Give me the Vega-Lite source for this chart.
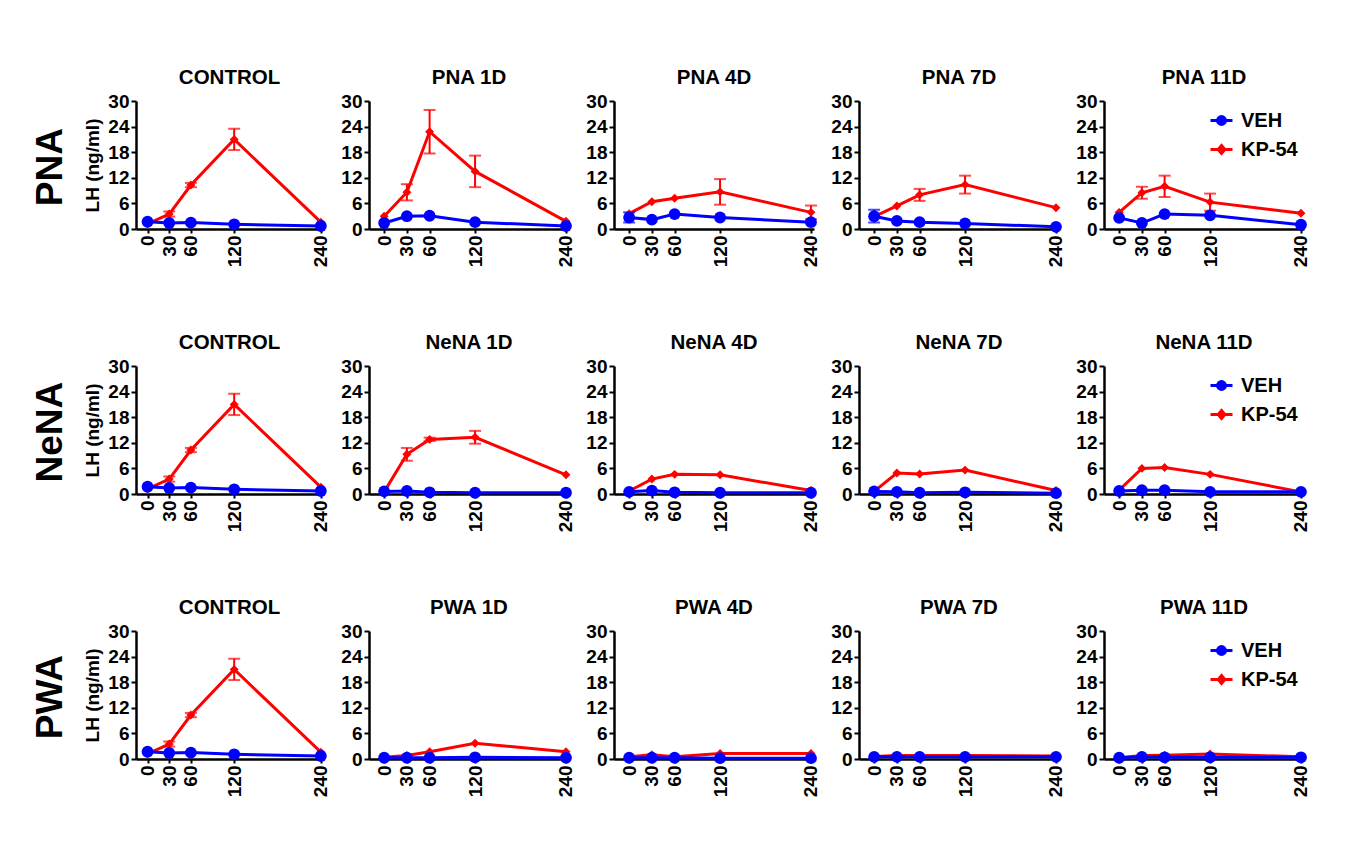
{
  "$schema": "https://vega.github.io/schema/vega-lite/v6.json",
  "background": "white",
  "padding": {"left": 31, "top": 67, "right": 5, "bottom": 5},
  "datasets": {
    "lh": [
      {"panel": "CONTROL", "series": "KP-54", "time": 0, "lh": 1.2},
      {"panel": "CONTROL", "series": "KP-54", "time": 30, "lh": 3.5, "err": 0.6},
      {"panel": "CONTROL", "series": "KP-54", "time": 60, "lh": 10.3, "err": 0.5},
      {"panel": "CONTROL", "series": "KP-54", "time": 120, "lh": 21.0, "err": 2.5},
      {"panel": "CONTROL", "series": "KP-54", "time": 240, "lh": 1.6},
      {"panel": "CONTROL", "series": "VEH", "time": 0, "lh": 1.7},
      {"panel": "CONTROL", "series": "VEH", "time": 30, "lh": 1.4},
      {"panel": "CONTROL", "series": "VEH", "time": 60, "lh": 1.5},
      {"panel": "CONTROL", "series": "VEH", "time": 120, "lh": 1.1},
      {"panel": "CONTROL", "series": "VEH", "time": 240, "lh": 0.7},

      {"panel": "PNA 1D", "series": "KP-54", "time": 0, "lh": 3.0},
      {"panel": "PNA 1D", "series": "KP-54", "time": 30, "lh": 8.6, "err": 1.9},
      {"panel": "PNA 1D", "series": "KP-54", "time": 60, "lh": 22.8, "err": 5.1},
      {"panel": "PNA 1D", "series": "KP-54", "time": 120, "lh": 13.5, "err": 3.7},
      {"panel": "PNA 1D", "series": "KP-54", "time": 240, "lh": 1.8},
      {"panel": "PNA 1D", "series": "VEH", "time": 0, "lh": 1.4},
      {"panel": "PNA 1D", "series": "VEH", "time": 30, "lh": 3.0},
      {"panel": "PNA 1D", "series": "VEH", "time": 60, "lh": 3.1},
      {"panel": "PNA 1D", "series": "VEH", "time": 120, "lh": 1.6},
      {"panel": "PNA 1D", "series": "VEH", "time": 240, "lh": 0.7},

      {"panel": "PNA 4D", "series": "KP-54", "time": 0, "lh": 3.6},
      {"panel": "PNA 4D", "series": "KP-54", "time": 30, "lh": 6.4},
      {"panel": "PNA 4D", "series": "KP-54", "time": 60, "lh": 7.2},
      {"panel": "PNA 4D", "series": "KP-54", "time": 120, "lh": 8.7, "err": 3.0},
      {"panel": "PNA 4D", "series": "KP-54", "time": 240, "lh": 3.9, "err": 1.6},
      {"panel": "PNA 4D", "series": "VEH", "time": 0, "lh": 2.7, "err": 1.2},
      {"panel": "PNA 4D", "series": "VEH", "time": 30, "lh": 2.2},
      {"panel": "PNA 4D", "series": "VEH", "time": 60, "lh": 3.5},
      {"panel": "PNA 4D", "series": "VEH", "time": 120, "lh": 2.7},
      {"panel": "PNA 4D", "series": "VEH", "time": 240, "lh": 1.6},

      {"panel": "PNA 7D", "series": "KP-54", "time": 0, "lh": 2.9},
      {"panel": "PNA 7D", "series": "KP-54", "time": 30, "lh": 5.4},
      {"panel": "PNA 7D", "series": "KP-54", "time": 60, "lh": 8.0, "err": 1.4},
      {"panel": "PNA 7D", "series": "KP-54", "time": 120, "lh": 10.4, "err": 2.1},
      {"panel": "PNA 7D", "series": "KP-54", "time": 240, "lh": 5.0},
      {"panel": "PNA 7D", "series": "VEH", "time": 0, "lh": 3.0, "err": 1.5},
      {"panel": "PNA 7D", "series": "VEH", "time": 30, "lh": 1.9},
      {"panel": "PNA 7D", "series": "VEH", "time": 60, "lh": 1.6},
      {"panel": "PNA 7D", "series": "VEH", "time": 120, "lh": 1.3},
      {"panel": "PNA 7D", "series": "VEH", "time": 240, "lh": 0.5},

      {"panel": "PNA 11D", "series": "KP-54", "time": 0, "lh": 3.9},
      {"panel": "PNA 11D", "series": "KP-54", "time": 30, "lh": 8.5, "err": 1.4},
      {"panel": "PNA 11D", "series": "KP-54", "time": 60, "lh": 10.0, "err": 2.5},
      {"panel": "PNA 11D", "series": "KP-54", "time": 120, "lh": 6.3, "err": 2.0},
      {"panel": "PNA 11D", "series": "KP-54", "time": 240, "lh": 3.7},
      {"panel": "PNA 11D", "series": "VEH", "time": 0, "lh": 2.6},
      {"panel": "PNA 11D", "series": "VEH", "time": 30, "lh": 1.4},
      {"panel": "PNA 11D", "series": "VEH", "time": 60, "lh": 3.5},
      {"panel": "PNA 11D", "series": "VEH", "time": 120, "lh": 3.2},
      {"panel": "PNA 11D", "series": "VEH", "time": 240, "lh": 1.0},

      {"panel": "NeNA 1D", "series": "KP-54", "time": 0, "lh": 0.5},
      {"panel": "NeNA 1D", "series": "KP-54", "time": 30, "lh": 9.3, "err": 1.5},
      {"panel": "NeNA 1D", "series": "KP-54", "time": 60, "lh": 12.8, "err": 0.4},
      {"panel": "NeNA 1D", "series": "KP-54", "time": 120, "lh": 13.3, "err": 1.5},
      {"panel": "NeNA 1D", "series": "KP-54", "time": 240, "lh": 4.5},
      {"panel": "NeNA 1D", "series": "VEH", "time": 0, "lh": 0.6},
      {"panel": "NeNA 1D", "series": "VEH", "time": 30, "lh": 0.7},
      {"panel": "NeNA 1D", "series": "VEH", "time": 60, "lh": 0.4},
      {"panel": "NeNA 1D", "series": "VEH", "time": 120, "lh": 0.3},
      {"panel": "NeNA 1D", "series": "VEH", "time": 240, "lh": 0.3},

      {"panel": "NeNA 4D", "series": "KP-54", "time": 0, "lh": 0.7},
      {"panel": "NeNA 4D", "series": "KP-54", "time": 30, "lh": 3.5},
      {"panel": "NeNA 4D", "series": "KP-54", "time": 60, "lh": 4.6},
      {"panel": "NeNA 4D", "series": "KP-54", "time": 120, "lh": 4.5},
      {"panel": "NeNA 4D", "series": "KP-54", "time": 240, "lh": 0.8},
      {"panel": "NeNA 4D", "series": "VEH", "time": 0, "lh": 0.5},
      {"panel": "NeNA 4D", "series": "VEH", "time": 30, "lh": 0.8},
      {"panel": "NeNA 4D", "series": "VEH", "time": 60, "lh": 0.4},
      {"panel": "NeNA 4D", "series": "VEH", "time": 120, "lh": 0.3},
      {"panel": "NeNA 4D", "series": "VEH", "time": 240, "lh": 0.3},

      {"panel": "NeNA 7D", "series": "KP-54", "time": 0, "lh": 0.6},
      {"panel": "NeNA 7D", "series": "KP-54", "time": 30, "lh": 4.9},
      {"panel": "NeNA 7D", "series": "KP-54", "time": 60, "lh": 4.7},
      {"panel": "NeNA 7D", "series": "KP-54", "time": 120, "lh": 5.6},
      {"panel": "NeNA 7D", "series": "KP-54", "time": 240, "lh": 0.8},
      {"panel": "NeNA 7D", "series": "VEH", "time": 0, "lh": 0.6},
      {"panel": "NeNA 7D", "series": "VEH", "time": 30, "lh": 0.5},
      {"panel": "NeNA 7D", "series": "VEH", "time": 60, "lh": 0.3},
      {"panel": "NeNA 7D", "series": "VEH", "time": 120, "lh": 0.4},
      {"panel": "NeNA 7D", "series": "VEH", "time": 240, "lh": 0.2},

      {"panel": "NeNA 11D", "series": "KP-54", "time": 0, "lh": 0.9},
      {"panel": "NeNA 11D", "series": "KP-54", "time": 30, "lh": 6.0},
      {"panel": "NeNA 11D", "series": "KP-54", "time": 60, "lh": 6.2},
      {"panel": "NeNA 11D", "series": "KP-54", "time": 120, "lh": 4.6},
      {"panel": "NeNA 11D", "series": "KP-54", "time": 240, "lh": 0.5},
      {"panel": "NeNA 11D", "series": "VEH", "time": 0, "lh": 0.7},
      {"panel": "NeNA 11D", "series": "VEH", "time": 30, "lh": 0.9},
      {"panel": "NeNA 11D", "series": "VEH", "time": 60, "lh": 0.9},
      {"panel": "NeNA 11D", "series": "VEH", "time": 120, "lh": 0.5},
      {"panel": "NeNA 11D", "series": "VEH", "time": 240, "lh": 0.5},

      {"panel": "PWA 1D", "series": "KP-54", "time": 0, "lh": 0.4},
      {"panel": "PWA 1D", "series": "KP-54", "time": 30, "lh": 0.8},
      {"panel": "PWA 1D", "series": "KP-54", "time": 60, "lh": 1.7},
      {"panel": "PWA 1D", "series": "KP-54", "time": 120, "lh": 3.7},
      {"panel": "PWA 1D", "series": "KP-54", "time": 240, "lh": 1.7},
      {"panel": "PWA 1D", "series": "VEH", "time": 0, "lh": 0.3},
      {"panel": "PWA 1D", "series": "VEH", "time": 30, "lh": 0.3},
      {"panel": "PWA 1D", "series": "VEH", "time": 60, "lh": 0.3},
      {"panel": "PWA 1D", "series": "VEH", "time": 120, "lh": 0.4},
      {"panel": "PWA 1D", "series": "VEH", "time": 240, "lh": 0.3},

      {"panel": "PWA 4D", "series": "KP-54", "time": 0, "lh": 0.5},
      {"panel": "PWA 4D", "series": "KP-54", "time": 30, "lh": 1.0},
      {"panel": "PWA 4D", "series": "KP-54", "time": 60, "lh": 0.5},
      {"panel": "PWA 4D", "series": "KP-54", "time": 120, "lh": 1.3},
      {"panel": "PWA 4D", "series": "KP-54", "time": 240, "lh": 1.3},
      {"panel": "PWA 4D", "series": "VEH", "time": 0, "lh": 0.3},
      {"panel": "PWA 4D", "series": "VEH", "time": 30, "lh": 0.3},
      {"panel": "PWA 4D", "series": "VEH", "time": 60, "lh": 0.3},
      {"panel": "PWA 4D", "series": "VEH", "time": 120, "lh": 0.2},
      {"panel": "PWA 4D", "series": "VEH", "time": 240, "lh": 0.2},

      {"panel": "PWA 7D", "series": "KP-54", "time": 0, "lh": 0.6},
      {"panel": "PWA 7D", "series": "KP-54", "time": 30, "lh": 0.8},
      {"panel": "PWA 7D", "series": "KP-54", "time": 60, "lh": 0.8},
      {"panel": "PWA 7D", "series": "KP-54", "time": 120, "lh": 0.8},
      {"panel": "PWA 7D", "series": "KP-54", "time": 240, "lh": 0.7},
      {"panel": "PWA 7D", "series": "VEH", "time": 0, "lh": 0.5},
      {"panel": "PWA 7D", "series": "VEH", "time": 30, "lh": 0.5},
      {"panel": "PWA 7D", "series": "VEH", "time": 60, "lh": 0.5},
      {"panel": "PWA 7D", "series": "VEH", "time": 120, "lh": 0.5},
      {"panel": "PWA 7D", "series": "VEH", "time": 240, "lh": 0.5},

      {"panel": "PWA 11D", "series": "KP-54", "time": 0, "lh": 0.3},
      {"panel": "PWA 11D", "series": "KP-54", "time": 30, "lh": 0.8},
      {"panel": "PWA 11D", "series": "KP-54", "time": 60, "lh": 0.9},
      {"panel": "PWA 11D", "series": "KP-54", "time": 120, "lh": 1.2},
      {"panel": "PWA 11D", "series": "KP-54", "time": 240, "lh": 0.5},
      {"panel": "PWA 11D", "series": "VEH", "time": 0, "lh": 0.3},
      {"panel": "PWA 11D", "series": "VEH", "time": 30, "lh": 0.5},
      {"panel": "PWA 11D", "series": "VEH", "time": 60, "lh": 0.4},
      {"panel": "PWA 11D", "series": "VEH", "time": 120, "lh": 0.4},
      {"panel": "PWA 11D", "series": "VEH", "time": 240, "lh": 0.4}
    ]
  },
  "data": {"name": "lh"},
  "config": {
    "view": {"stroke": null},
    "font": "Liberation Sans",
    "axis": {
      "labelFont": "Liberation Sans", "labelFontSize": 19, "labelFontWeight": "bold", "labelColor": "black",
      "domainColor": "black", "domainWidth": 2.5, "tickColor": "black", "tickWidth": 2, "tickSize": 5,
      "grid": false, "labelPadding": 2, "labelFlush": false,
      "titleFont": "Liberation Sans", "titleFontSize": 19, "titleFontWeight": "bold", "titleColor": "black"
    },
    "title": {"font": "Liberation Sans", "fontSize": 20.5, "fontWeight": "bold", "color": "black", "offset": 0, "anchor": "middle"}
  },
  "spacing": 65,
  "vconcat": [
    {
      "title": {"text": "PNA", "orient": "left", "fontSize": 37, "offset": 14, "anchor": "middle"},
      "spacing": 9,
      "resolve": {"legend": {"color": "independent"}},
      "hconcat": [
        {
          "title": {"text": "CONTROL"}, "width": 187, "height": 128,
          "transform": [{"filter": "datum.panel === 'CONTROL'"}],
          "encoding": {
            "x": {"field": "time", "type": "quantitative", "scale": {"domain": [-16, 243], "nice": false, "zero": false}, "axis": {"values": [0, 30, 60, 120, 240], "labelAngle": -90, "labelOverlap": false, "title": null, "tickSize": 4}},
            "y": {"field": "lh", "type": "quantitative", "scale": {"domain": [0, 30], "nice": false}, "axis": {"values": [0, 6, 12, 18, 24, 30], "title": "LH (ng/ml)", "titlePadding": 5}},
            "color": {"field": "series", "type": "nominal", "scale": {"domain": ["VEH", "KP-54"], "range": ["#0000ff", "#ff0000"]}, "legend": null}
          },
          "layer": [
            {"mark": {"type": "line", "strokeWidth": 3}},
            {"transform": [{"filter": "datum.err > 0"}], "mark": {"type": "errorbar", "thickness": 2, "ticks": {"size": 12, "thickness": 2}}, "encoding": {"yError": {"field": "err"}}},
            {"transform": [{"filter": "datum.series === 'KP-54'"}], "mark": {"type": "point", "filled": true, "opacity": 1, "shape": "diamond", "size": 80}},
            {"transform": [{"filter": "datum.series === 'VEH'"}], "mark": {"type": "point", "filled": true, "opacity": 1, "shape": "circle", "size": 140}}
          ]
        },
        {
          "title": {"text": "PNA 1D"}, "width": 200, "height": 128,
          "transform": [{"filter": "datum.panel === 'PNA 1D'"}],
          "encoding": {
            "x": {"field": "time", "type": "quantitative", "scale": {"domain": [-20, 244], "nice": false, "zero": false}, "axis": {"values": [0, 30, 60, 120, 240], "labelAngle": -90, "labelOverlap": false, "title": null, "tickSize": 4}},
            "y": {"field": "lh", "type": "quantitative", "scale": {"domain": [0, 30], "nice": false}, "axis": {"values": [0, 6, 12, 18, 24, 30], "title": null}},
            "color": {"field": "series", "type": "nominal", "scale": {"domain": ["VEH", "KP-54"], "range": ["#0000ff", "#ff0000"]}, "legend": null}
          },
          "layer": [
            {"mark": {"type": "line", "strokeWidth": 3}},
            {"transform": [{"filter": "datum.err > 0"}], "mark": {"type": "errorbar", "thickness": 2, "ticks": {"size": 12, "thickness": 2}}, "encoding": {"yError": {"field": "err"}}},
            {"transform": [{"filter": "datum.series === 'KP-54'"}], "mark": {"type": "point", "filled": true, "opacity": 1, "shape": "diamond", "size": 80}},
            {"transform": [{"filter": "datum.series === 'VEH'"}], "mark": {"type": "point", "filled": true, "opacity": 1, "shape": "circle", "size": 140}}
          ]
        },
        {
          "title": {"text": "PNA 4D"}, "width": 200, "height": 128,
          "transform": [{"filter": "datum.panel === 'PNA 4D'"}],
          "encoding": {
            "x": {"field": "time", "type": "quantitative", "scale": {"domain": [-20, 244], "nice": false, "zero": false}, "axis": {"values": [0, 30, 60, 120, 240], "labelAngle": -90, "labelOverlap": false, "title": null, "tickSize": 4}},
            "y": {"field": "lh", "type": "quantitative", "scale": {"domain": [0, 30], "nice": false}, "axis": {"values": [0, 6, 12, 18, 24, 30], "title": null}},
            "color": {"field": "series", "type": "nominal", "scale": {"domain": ["VEH", "KP-54"], "range": ["#0000ff", "#ff0000"]}, "legend": null}
          },
          "layer": [
            {"mark": {"type": "line", "strokeWidth": 3}},
            {"transform": [{"filter": "datum.err > 0"}], "mark": {"type": "errorbar", "thickness": 2, "ticks": {"size": 12, "thickness": 2}}, "encoding": {"yError": {"field": "err"}}},
            {"transform": [{"filter": "datum.series === 'KP-54'"}], "mark": {"type": "point", "filled": true, "opacity": 1, "shape": "diamond", "size": 80}},
            {"transform": [{"filter": "datum.series === 'VEH'"}], "mark": {"type": "point", "filled": true, "opacity": 1, "shape": "circle", "size": 140}}
          ]
        },
        {
          "title": {"text": "PNA 7D"}, "width": 200, "height": 128,
          "transform": [{"filter": "datum.panel === 'PNA 7D'"}],
          "encoding": {
            "x": {"field": "time", "type": "quantitative", "scale": {"domain": [-20, 244], "nice": false, "zero": false}, "axis": {"values": [0, 30, 60, 120, 240], "labelAngle": -90, "labelOverlap": false, "title": null, "tickSize": 4}},
            "y": {"field": "lh", "type": "quantitative", "scale": {"domain": [0, 30], "nice": false}, "axis": {"values": [0, 6, 12, 18, 24, 30], "title": null}},
            "color": {"field": "series", "type": "nominal", "scale": {"domain": ["VEH", "KP-54"], "range": ["#0000ff", "#ff0000"]}, "legend": null}
          },
          "layer": [
            {"mark": {"type": "line", "strokeWidth": 3}},
            {"transform": [{"filter": "datum.err > 0"}], "mark": {"type": "errorbar", "thickness": 2, "ticks": {"size": 12, "thickness": 2}}, "encoding": {"yError": {"field": "err"}}},
            {"transform": [{"filter": "datum.series === 'KP-54'"}], "mark": {"type": "point", "filled": true, "opacity": 1, "shape": "diamond", "size": 80}},
            {"transform": [{"filter": "datum.series === 'VEH'"}], "mark": {"type": "point", "filled": true, "opacity": 1, "shape": "circle", "size": 140}}
          ]
        },
        {
          "title": {"text": "PNA 11D"}, "width": 200, "height": 128,
          "transform": [{"filter": "datum.panel === 'PNA 11D'"}],
          "encoding": {
            "x": {"field": "time", "type": "quantitative", "scale": {"domain": [-20, 244], "nice": false, "zero": false}, "axis": {"values": [0, 30, 60, 120, 240], "labelAngle": -90, "labelOverlap": false, "title": null, "tickSize": 4}},
            "y": {"field": "lh", "type": "quantitative", "scale": {"domain": [0, 30], "nice": false}, "axis": {"values": [0, 6, 12, 18, 24, 30], "title": null}},
            "color": {"field": "series", "type": "nominal", "scale": {"domain": ["VEH", "KP-54"], "range": ["#0000ff", "#ff0000"]},
              "legend": {"orient": "none", "legendX": 105, "legendY": 7, "title": null, "padding": 0, "labelFont": "Liberation Sans", "labelFontSize": 20, "labelFontWeight": "bold", "labelColor": "black", "symbolSize": 484, "rowPadding": 6, "labelOffset": 7,
                "encode": {"symbols": {"update": {
                  "shape": {"signal": "datum.value === 'VEH' ? 'M-1,0H1M0.36,0A0.36,0.36,0,1,1,-0.36,0A0.36,0.36,0,1,1,0.36,0Z' : 'M-1,0H1M0,-0.36L0.3,0L0,0.36L-0.3,0Z'"},
                  "fill": {"signal": "datum.value === 'VEH' ? '#0000ff' : '#ff0000'"},
                  "stroke": {"signal": "datum.value === 'VEH' ? '#0000ff' : '#ff0000'"},
                  "strokeWidth": {"value": 3},
                  "opacity": {"value": 1}
                }}}}}
          },
          "layer": [
            {"mark": {"type": "line", "strokeWidth": 3}},
            {"transform": [{"filter": "datum.err > 0"}], "mark": {"type": "errorbar", "thickness": 2, "ticks": {"size": 12, "thickness": 2}}, "encoding": {"yError": {"field": "err"}}},
            {"transform": [{"filter": "datum.series === 'KP-54'"}], "mark": {"type": "point", "filled": true, "opacity": 1, "shape": "diamond", "size": 80}},
            {"transform": [{"filter": "datum.series === 'VEH'"}], "mark": {"type": "point", "filled": true, "opacity": 1, "shape": "circle", "size": 140}}
          ]
        }
      ]
    },
    {
      "title": {"text": "NeNA", "orient": "left", "fontSize": 37, "offset": 14, "anchor": "middle"},
      "spacing": 9,
      "resolve": {"legend": {"color": "independent"}},
      "hconcat": [
        {
          "title": {"text": "CONTROL"}, "width": 187, "height": 128,
          "transform": [{"filter": "datum.panel === 'CONTROL'"}],
          "encoding": {
            "x": {"field": "time", "type": "quantitative", "scale": {"domain": [-16, 243], "nice": false, "zero": false}, "axis": {"values": [0, 30, 60, 120, 240], "labelAngle": -90, "labelOverlap": false, "title": null, "tickSize": 4}},
            "y": {"field": "lh", "type": "quantitative", "scale": {"domain": [0, 30], "nice": false}, "axis": {"values": [0, 6, 12, 18, 24, 30], "title": "LH (ng/ml)", "titlePadding": 5}},
            "color": {"field": "series", "type": "nominal", "scale": {"domain": ["VEH", "KP-54"], "range": ["#0000ff", "#ff0000"]}, "legend": null}
          },
          "layer": [
            {"mark": {"type": "line", "strokeWidth": 3}},
            {"transform": [{"filter": "datum.err > 0"}], "mark": {"type": "errorbar", "thickness": 2, "ticks": {"size": 12, "thickness": 2}}, "encoding": {"yError": {"field": "err"}}},
            {"transform": [{"filter": "datum.series === 'KP-54'"}], "mark": {"type": "point", "filled": true, "opacity": 1, "shape": "diamond", "size": 80}},
            {"transform": [{"filter": "datum.series === 'VEH'"}], "mark": {"type": "point", "filled": true, "opacity": 1, "shape": "circle", "size": 140}}
          ]
        },
        {
          "title": {"text": "NeNA 1D"}, "width": 200, "height": 128,
          "transform": [{"filter": "datum.panel === 'NeNA 1D'"}],
          "encoding": {
            "x": {"field": "time", "type": "quantitative", "scale": {"domain": [-20, 244], "nice": false, "zero": false}, "axis": {"values": [0, 30, 60, 120, 240], "labelAngle": -90, "labelOverlap": false, "title": null, "tickSize": 4}},
            "y": {"field": "lh", "type": "quantitative", "scale": {"domain": [0, 30], "nice": false}, "axis": {"values": [0, 6, 12, 18, 24, 30], "title": null}},
            "color": {"field": "series", "type": "nominal", "scale": {"domain": ["VEH", "KP-54"], "range": ["#0000ff", "#ff0000"]}, "legend": null}
          },
          "layer": [
            {"mark": {"type": "line", "strokeWidth": 3}},
            {"transform": [{"filter": "datum.err > 0"}], "mark": {"type": "errorbar", "thickness": 2, "ticks": {"size": 12, "thickness": 2}}, "encoding": {"yError": {"field": "err"}}},
            {"transform": [{"filter": "datum.series === 'KP-54'"}], "mark": {"type": "point", "filled": true, "opacity": 1, "shape": "diamond", "size": 80}},
            {"transform": [{"filter": "datum.series === 'VEH'"}], "mark": {"type": "point", "filled": true, "opacity": 1, "shape": "circle", "size": 140}}
          ]
        },
        {
          "title": {"text": "NeNA 4D"}, "width": 200, "height": 128,
          "transform": [{"filter": "datum.panel === 'NeNA 4D'"}],
          "encoding": {
            "x": {"field": "time", "type": "quantitative", "scale": {"domain": [-20, 244], "nice": false, "zero": false}, "axis": {"values": [0, 30, 60, 120, 240], "labelAngle": -90, "labelOverlap": false, "title": null, "tickSize": 4}},
            "y": {"field": "lh", "type": "quantitative", "scale": {"domain": [0, 30], "nice": false}, "axis": {"values": [0, 6, 12, 18, 24, 30], "title": null}},
            "color": {"field": "series", "type": "nominal", "scale": {"domain": ["VEH", "KP-54"], "range": ["#0000ff", "#ff0000"]}, "legend": null}
          },
          "layer": [
            {"mark": {"type": "line", "strokeWidth": 3}},
            {"transform": [{"filter": "datum.err > 0"}], "mark": {"type": "errorbar", "thickness": 2, "ticks": {"size": 12, "thickness": 2}}, "encoding": {"yError": {"field": "err"}}},
            {"transform": [{"filter": "datum.series === 'KP-54'"}], "mark": {"type": "point", "filled": true, "opacity": 1, "shape": "diamond", "size": 80}},
            {"transform": [{"filter": "datum.series === 'VEH'"}], "mark": {"type": "point", "filled": true, "opacity": 1, "shape": "circle", "size": 140}}
          ]
        },
        {
          "title": {"text": "NeNA 7D"}, "width": 200, "height": 128,
          "transform": [{"filter": "datum.panel === 'NeNA 7D'"}],
          "encoding": {
            "x": {"field": "time", "type": "quantitative", "scale": {"domain": [-20, 244], "nice": false, "zero": false}, "axis": {"values": [0, 30, 60, 120, 240], "labelAngle": -90, "labelOverlap": false, "title": null, "tickSize": 4}},
            "y": {"field": "lh", "type": "quantitative", "scale": {"domain": [0, 30], "nice": false}, "axis": {"values": [0, 6, 12, 18, 24, 30], "title": null}},
            "color": {"field": "series", "type": "nominal", "scale": {"domain": ["VEH", "KP-54"], "range": ["#0000ff", "#ff0000"]}, "legend": null}
          },
          "layer": [
            {"mark": {"type": "line", "strokeWidth": 3}},
            {"transform": [{"filter": "datum.err > 0"}], "mark": {"type": "errorbar", "thickness": 2, "ticks": {"size": 12, "thickness": 2}}, "encoding": {"yError": {"field": "err"}}},
            {"transform": [{"filter": "datum.series === 'KP-54'"}], "mark": {"type": "point", "filled": true, "opacity": 1, "shape": "diamond", "size": 80}},
            {"transform": [{"filter": "datum.series === 'VEH'"}], "mark": {"type": "point", "filled": true, "opacity": 1, "shape": "circle", "size": 140}}
          ]
        },
        {
          "title": {"text": "NeNA 11D"}, "width": 200, "height": 128,
          "transform": [{"filter": "datum.panel === 'NeNA 11D'"}],
          "encoding": {
            "x": {"field": "time", "type": "quantitative", "scale": {"domain": [-20, 244], "nice": false, "zero": false}, "axis": {"values": [0, 30, 60, 120, 240], "labelAngle": -90, "labelOverlap": false, "title": null, "tickSize": 4}},
            "y": {"field": "lh", "type": "quantitative", "scale": {"domain": [0, 30], "nice": false}, "axis": {"values": [0, 6, 12, 18, 24, 30], "title": null}},
            "color": {"field": "series", "type": "nominal", "scale": {"domain": ["VEH", "KP-54"], "range": ["#0000ff", "#ff0000"]},
              "legend": {"orient": "none", "legendX": 105, "legendY": 7, "title": null, "padding": 0, "labelFont": "Liberation Sans", "labelFontSize": 20, "labelFontWeight": "bold", "labelColor": "black", "symbolSize": 484, "rowPadding": 6, "labelOffset": 7,
                "encode": {"symbols": {"update": {
                  "shape": {"signal": "datum.value === 'VEH' ? 'M-1,0H1M0.36,0A0.36,0.36,0,1,1,-0.36,0A0.36,0.36,0,1,1,0.36,0Z' : 'M-1,0H1M0,-0.36L0.3,0L0,0.36L-0.3,0Z'"},
                  "fill": {"signal": "datum.value === 'VEH' ? '#0000ff' : '#ff0000'"},
                  "stroke": {"signal": "datum.value === 'VEH' ? '#0000ff' : '#ff0000'"},
                  "strokeWidth": {"value": 3},
                  "opacity": {"value": 1}
                }}}}}
          },
          "layer": [
            {"mark": {"type": "line", "strokeWidth": 3}},
            {"transform": [{"filter": "datum.err > 0"}], "mark": {"type": "errorbar", "thickness": 2, "ticks": {"size": 12, "thickness": 2}}, "encoding": {"yError": {"field": "err"}}},
            {"transform": [{"filter": "datum.series === 'KP-54'"}], "mark": {"type": "point", "filled": true, "opacity": 1, "shape": "diamond", "size": 80}},
            {"transform": [{"filter": "datum.series === 'VEH'"}], "mark": {"type": "point", "filled": true, "opacity": 1, "shape": "circle", "size": 140}}
          ]
        }
      ]
    },
    {
      "title": {"text": "PWA", "orient": "left", "fontSize": 37, "offset": 14, "anchor": "middle"},
      "spacing": 9,
      "resolve": {"legend": {"color": "independent"}},
      "hconcat": [
        {
          "title": {"text": "CONTROL"}, "width": 187, "height": 128,
          "transform": [{"filter": "datum.panel === 'CONTROL'"}],
          "encoding": {
            "x": {"field": "time", "type": "quantitative", "scale": {"domain": [-16, 243], "nice": false, "zero": false}, "axis": {"values": [0, 30, 60, 120, 240], "labelAngle": -90, "labelOverlap": false, "title": null, "tickSize": 4}},
            "y": {"field": "lh", "type": "quantitative", "scale": {"domain": [0, 30], "nice": false}, "axis": {"values": [0, 6, 12, 18, 24, 30], "title": "LH (ng/ml)", "titlePadding": 5}},
            "color": {"field": "series", "type": "nominal", "scale": {"domain": ["VEH", "KP-54"], "range": ["#0000ff", "#ff0000"]}, "legend": null}
          },
          "layer": [
            {"mark": {"type": "line", "strokeWidth": 3}},
            {"transform": [{"filter": "datum.err > 0"}], "mark": {"type": "errorbar", "thickness": 2, "ticks": {"size": 12, "thickness": 2}}, "encoding": {"yError": {"field": "err"}}},
            {"transform": [{"filter": "datum.series === 'KP-54'"}], "mark": {"type": "point", "filled": true, "opacity": 1, "shape": "diamond", "size": 80}},
            {"transform": [{"filter": "datum.series === 'VEH'"}], "mark": {"type": "point", "filled": true, "opacity": 1, "shape": "circle", "size": 140}}
          ]
        },
        {
          "title": {"text": "PWA 1D"}, "width": 200, "height": 128,
          "transform": [{"filter": "datum.panel === 'PWA 1D'"}],
          "encoding": {
            "x": {"field": "time", "type": "quantitative", "scale": {"domain": [-20, 244], "nice": false, "zero": false}, "axis": {"values": [0, 30, 60, 120, 240], "labelAngle": -90, "labelOverlap": false, "title": null, "tickSize": 4}},
            "y": {"field": "lh", "type": "quantitative", "scale": {"domain": [0, 30], "nice": false}, "axis": {"values": [0, 6, 12, 18, 24, 30], "title": null}},
            "color": {"field": "series", "type": "nominal", "scale": {"domain": ["VEH", "KP-54"], "range": ["#0000ff", "#ff0000"]}, "legend": null}
          },
          "layer": [
            {"mark": {"type": "line", "strokeWidth": 3}},
            {"transform": [{"filter": "datum.err > 0"}], "mark": {"type": "errorbar", "thickness": 2, "ticks": {"size": 12, "thickness": 2}}, "encoding": {"yError": {"field": "err"}}},
            {"transform": [{"filter": "datum.series === 'KP-54'"}], "mark": {"type": "point", "filled": true, "opacity": 1, "shape": "diamond", "size": 80}},
            {"transform": [{"filter": "datum.series === 'VEH'"}], "mark": {"type": "point", "filled": true, "opacity": 1, "shape": "circle", "size": 140}}
          ]
        },
        {
          "title": {"text": "PWA 4D"}, "width": 200, "height": 128,
          "transform": [{"filter": "datum.panel === 'PWA 4D'"}],
          "encoding": {
            "x": {"field": "time", "type": "quantitative", "scale": {"domain": [-20, 244], "nice": false, "zero": false}, "axis": {"values": [0, 30, 60, 120, 240], "labelAngle": -90, "labelOverlap": false, "title": null, "tickSize": 4}},
            "y": {"field": "lh", "type": "quantitative", "scale": {"domain": [0, 30], "nice": false}, "axis": {"values": [0, 6, 12, 18, 24, 30], "title": null}},
            "color": {"field": "series", "type": "nominal", "scale": {"domain": ["VEH", "KP-54"], "range": ["#0000ff", "#ff0000"]}, "legend": null}
          },
          "layer": [
            {"mark": {"type": "line", "strokeWidth": 3}},
            {"transform": [{"filter": "datum.err > 0"}], "mark": {"type": "errorbar", "thickness": 2, "ticks": {"size": 12, "thickness": 2}}, "encoding": {"yError": {"field": "err"}}},
            {"transform": [{"filter": "datum.series === 'KP-54'"}], "mark": {"type": "point", "filled": true, "opacity": 1, "shape": "diamond", "size": 80}},
            {"transform": [{"filter": "datum.series === 'VEH'"}], "mark": {"type": "point", "filled": true, "opacity": 1, "shape": "circle", "size": 140}}
          ]
        },
        {
          "title": {"text": "PWA 7D"}, "width": 200, "height": 128,
          "transform": [{"filter": "datum.panel === 'PWA 7D'"}],
          "encoding": {
            "x": {"field": "time", "type": "quantitative", "scale": {"domain": [-20, 244], "nice": false, "zero": false}, "axis": {"values": [0, 30, 60, 120, 240], "labelAngle": -90, "labelOverlap": false, "title": null, "tickSize": 4}},
            "y": {"field": "lh", "type": "quantitative", "scale": {"domain": [0, 30], "nice": false}, "axis": {"values": [0, 6, 12, 18, 24, 30], "title": null}},
            "color": {"field": "series", "type": "nominal", "scale": {"domain": ["VEH", "KP-54"], "range": ["#0000ff", "#ff0000"]}, "legend": null}
          },
          "layer": [
            {"mark": {"type": "line", "strokeWidth": 3}},
            {"transform": [{"filter": "datum.err > 0"}], "mark": {"type": "errorbar", "thickness": 2, "ticks": {"size": 12, "thickness": 2}}, "encoding": {"yError": {"field": "err"}}},
            {"transform": [{"filter": "datum.series === 'KP-54'"}], "mark": {"type": "point", "filled": true, "opacity": 1, "shape": "diamond", "size": 80}},
            {"transform": [{"filter": "datum.series === 'VEH'"}], "mark": {"type": "point", "filled": true, "opacity": 1, "shape": "circle", "size": 140}}
          ]
        },
        {
          "title": {"text": "PWA 11D"}, "width": 200, "height": 128,
          "transform": [{"filter": "datum.panel === 'PWA 11D'"}],
          "encoding": {
            "x": {"field": "time", "type": "quantitative", "scale": {"domain": [-20, 244], "nice": false, "zero": false}, "axis": {"values": [0, 30, 60, 120, 240], "labelAngle": -90, "labelOverlap": false, "title": null, "tickSize": 4}},
            "y": {"field": "lh", "type": "quantitative", "scale": {"domain": [0, 30], "nice": false}, "axis": {"values": [0, 6, 12, 18, 24, 30], "title": null}},
            "color": {"field": "series", "type": "nominal", "scale": {"domain": ["VEH", "KP-54"], "range": ["#0000ff", "#ff0000"]},
              "legend": {"orient": "none", "legendX": 105, "legendY": 7, "title": null, "padding": 0, "labelFont": "Liberation Sans", "labelFontSize": 20, "labelFontWeight": "bold", "labelColor": "black", "symbolSize": 484, "rowPadding": 6, "labelOffset": 7,
                "encode": {"symbols": {"update": {
                  "shape": {"signal": "datum.value === 'VEH' ? 'M-1,0H1M0.36,0A0.36,0.36,0,1,1,-0.36,0A0.36,0.36,0,1,1,0.36,0Z' : 'M-1,0H1M0,-0.36L0.3,0L0,0.36L-0.3,0Z'"},
                  "fill": {"signal": "datum.value === 'VEH' ? '#0000ff' : '#ff0000'"},
                  "stroke": {"signal": "datum.value === 'VEH' ? '#0000ff' : '#ff0000'"},
                  "strokeWidth": {"value": 3},
                  "opacity": {"value": 1}
                }}}}}
          },
          "layer": [
            {"mark": {"type": "line", "strokeWidth": 3}},
            {"transform": [{"filter": "datum.err > 0"}], "mark": {"type": "errorbar", "thickness": 2, "ticks": {"size": 12, "thickness": 2}}, "encoding": {"yError": {"field": "err"}}},
            {"transform": [{"filter": "datum.series === 'KP-54'"}], "mark": {"type": "point", "filled": true, "opacity": 1, "shape": "diamond", "size": 80}},
            {"transform": [{"filter": "datum.series === 'VEH'"}], "mark": {"type": "point", "filled": true, "opacity": 1, "shape": "circle", "size": 140}}
          ]
        }
      ]
    }
  ]
}
